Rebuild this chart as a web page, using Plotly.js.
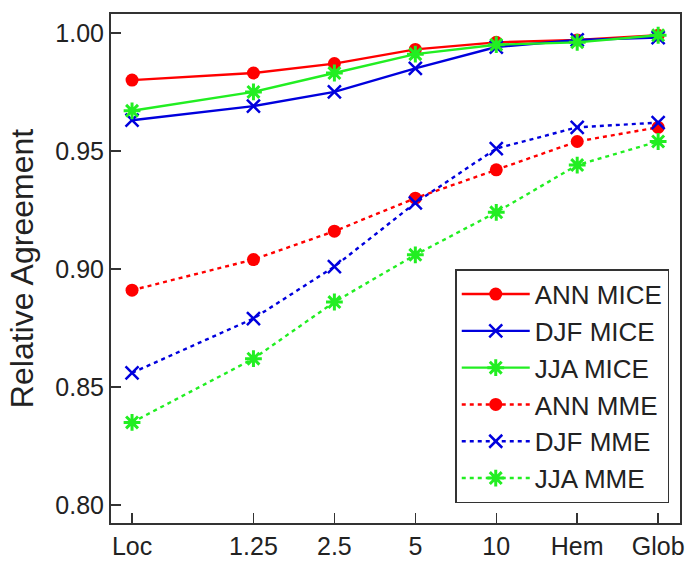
<!DOCTYPE html>
<html>
<head>
<meta charset="utf-8">
<script src="https://cdn.plot.ly/plotly-3.0.1.min.js"></script>
<style>html,body{margin:0;padding:0;background:#fff;}#chart{width:691px;height:562px;}</style>
</head>
<body>
<div id="chart"></div>
<script>
// Categories (tick labels) and their axis positions
var categories = ["Loc", "1.25", "2.5", "5", "10", "Hem", "Glob"];
var xPos = [-1.5, 0, 1, 2, 3, 4, 5];

// Series values
var annMice = [0.980, 0.983, 0.987, 0.993, 0.996, 0.997, 0.999];
var djfMice = [0.963, 0.969, 0.975, 0.985, 0.994, 0.997, 0.998];
var jjaMice = [0.967, 0.975, 0.983, 0.991, 0.995, 0.996, 0.999];
var annMme  = [0.891, 0.904, 0.916, 0.930, 0.942, 0.954, 0.960];
var djfMme  = [0.856, 0.879, 0.901, 0.928, 0.951, 0.960, 0.962];
var jjaMme  = [0.835, 0.862, 0.886, 0.906, 0.924, 0.944, 0.954];

var yTicks = [0.80, 0.85, 0.90, 0.95, 1.00];
var yTickText = ["0.80", "0.85", "0.90", "0.95", "1.00"];

var RED = "#ff0000", BLUE = "#0000dd", GREEN = "#22ee22";

function mk(name, y, color, symbol, dash, size, lw) {
  return {
    type: "scatter", mode: "lines+markers", name: name,
    x: xPos, y: y,
    line: {color: color, width: 2.4, dash: dash},
    marker: {color: color, symbol: symbol, size: size, line: {color: color, width: lw}}
  };
}

var DOT = "4px,4px";
var traces = [
  mk("ANN MICE", annMice, RED, "circle", "solid", 13, 0),
  mk("DJF MICE", djfMice, BLUE, "x-thin-open", "solid", 13, 2.5),
  mk("JJA MICE", jjaMice, GREEN, "asterisk-open", "solid", 14, 3),
  mk("ANN MME", annMme, RED, "circle", DOT, 13, 0),
  mk("DJF MME", djfMme, BLUE, "x-thin-open", DOT, 13, 2.5),
  mk("JJA MME", jjaMme, GREEN, "asterisk-open", DOT, 14, 3)
];

var layout = {
  width: 691, height: 562,
  margin: {l: 111, r: 11, t: 14, b: 39},
  paper_bgcolor: "#fff", plot_bgcolor: "#fff",
  font: {family: "Liberation Sans, Arial, sans-serif", color: "#222"},
  showlegend: true,
  legend: {
    x: 0.605, xanchor: "left", y: 0.039, yanchor: "bottom",
    bgcolor: "#fff", bordercolor: "#333", borderwidth: 1.5,
    font: {size: 26, color: "#222"},
    itemwidth: 68, traceorder: "normal", entrywidth: 150
  },
  xaxis: {
    range: [-1.76, 5.27],
    tickmode: "array", tickvals: xPos, ticktext: categories,
    ticks: "inside", ticklen: 10, tickwidth: 1.5, tickcolor: "#333",
    showline: true, linecolor: "#333", linewidth: 2, mirror: true,
    showgrid: false, zeroline: false,
    tickfont: {size: 25, color: "#222"}
  },
  yaxis: {
    range: [0.7924, 1.008],
    tickmode: "array", tickvals: yTicks, ticktext: yTickText,
    ticks: "inside", ticklen: 10, tickwidth: 1.5, tickcolor: "#333",
    showline: true, linecolor: "#333", linewidth: 2, mirror: true,
    showgrid: false, zeroline: false,
    tickfont: {size: 25, color: "#222"},
    title: {text: "Relative Agreement", font: {size: 32, color: "#222"}, standoff: 12}
  }
};

Plotly.newPlot("chart", traces, layout, {displayModeBar: false, staticPlot: true});
</script>
</body>
</html>
